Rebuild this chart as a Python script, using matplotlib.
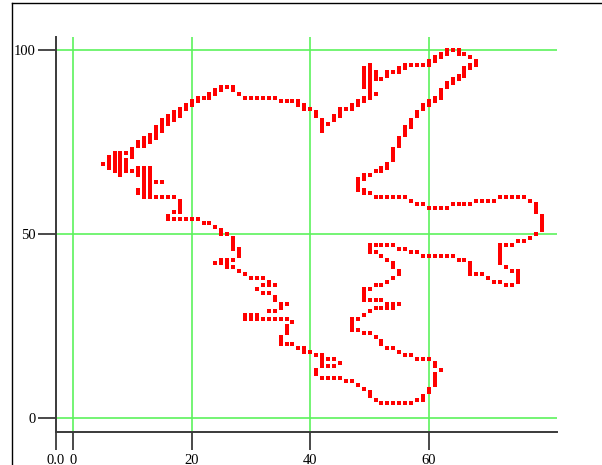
import matplotlib
matplotlib.use("Agg")
import matplotlib.pyplot as plt
from matplotlib.lines import Line2D
from matplotlib.path import Path
import numpy as np

# traced outline, stored as (x, y) lattice points, region by region
pts_left = [
    (5, 69), (6, 68), (6, 69), (6, 70), (6, 71), (7, 67), (7, 68), (7, 69), (7, 70),
    (7, 71), (7, 72), (8, 66), (8, 67), (8, 68), (8, 69), (8, 70), (8, 71), (8, 72),
    (9, 67), (9, 68), (9, 69), (9, 70), (9, 72), (10, 71), (10, 72), (10, 73),
    (10, 67), (11, 68), (11, 67), (11, 66), (11, 62), (11, 61),
    (12, 68), (12, 67), (12, 66), (12, 65), (12, 64), (12, 63), (12, 62), (12, 61),
    (13, 68), (13, 67), (13, 66), (13, 65), (13, 64), (13, 63), (13, 62), (13, 61),
    (14, 64), (15, 64), (12, 60), (13, 60), (14, 60), (15, 60), (16, 60), (17, 60),
    (18, 59), (18, 58), (18, 57), (18, 56), (17, 56), (16, 55), (16, 54), (17, 54),
    (18, 54), (19, 54), (20, 54), (21, 54), (22, 53), (23, 53), (24, 52), (25, 51),
]
pts_top = [
    (11, 74), (11, 75), (12, 74), (12, 75), (12, 76), (13, 75), (13, 76), (13, 77),
    (14, 76), (14, 77), (14, 78), (14, 79), (15, 78), (15, 79), (15, 80), (15, 81),
    (16, 80), (16, 81), (16, 82), (17, 81), (17, 82), (17, 83), (18, 82), (18, 83),
    (18, 84), (19, 84), (19, 85), (20, 85), (20, 86), (21, 86), (21, 87), (22, 87),
    (23, 87), (23, 88), (24, 88), (24, 89), (25, 89), (25, 90), (26, 90), (27, 90),
    (27, 89), (28, 88), (29, 87), (30, 87), (31, 87), (32, 87), (33, 87), (34, 87),
    (35, 86), (36, 86), (37, 86), (38, 86), (38, 85), (39, 85), (39, 84), (40, 84),
    (41, 83), (41, 82), (42, 81), (42, 80), (42, 79), (42, 78), (43, 80), (44, 81),
    (44, 82), (45, 82), (45, 83), (45, 84), (46, 84), (47, 84), (47, 85), (48, 85),
    (48, 86), (49, 86), (49, 87), (50, 87),
]
pts_lobe = [
    (50, 88), (50, 89), (50, 90), (49, 90), (49, 91), (49, 92), (49, 93), (49, 94),
    (49, 95), (50, 91), (50, 92), (50, 93), (50, 94), (50, 95), (50, 96), (51, 94),
    (51, 93), (51, 92), (51, 88), (52, 92), (53, 93), (53, 94), (54, 94), (55, 94),
    (55, 95), (56, 95), (56, 96), (57, 96), (58, 96), (59, 96), (60, 96), (60, 97),
    (61, 97), (61, 98), (62, 98), (62, 99), (63, 99), (63, 100), (64, 100), (65, 100),
    (65, 99), (66, 99), (67, 98), (68, 97), (68, 96), (67, 96), (67, 95), (66, 95),
    (66, 94), (66, 93), (65, 93), (65, 92), (64, 92), (64, 91), (63, 91), (63, 90),
    (62, 89), (62, 88), (62, 87), (61, 87), (61, 86), (60, 86), (60, 85), (59, 85),
    (59, 84), (58, 83), (58, 82), (57, 81), (57, 80), (57, 79), (56, 79), (56, 78),
    (56, 77), (55, 76), (55, 75), (55, 74), (54, 73), (54, 72), (54, 71), (54, 70),
    (53, 69), (53, 68), (52, 68), (52, 67), (51, 67), (50, 66), (49, 66), (49, 65),
    (48, 65), (48, 64), (48, 63), (48, 62), (49, 62), (49, 61), (50, 61),
]
pts_right = [
    (51, 60), (52, 60), (53, 60), (54, 60), (55, 60), (56, 60), (57, 59), (58, 58),
    (59, 58), (60, 57), (61, 57), (62, 57), (63, 57), (64, 58), (65, 58), (66, 58),
    (67, 58), (68, 59), (69, 59), (70, 59), (71, 59), (72, 60), (73, 60), (74, 60),
    (75, 60), (76, 60), (77, 59), (78, 58), (78, 57), (78, 56), (79, 55), (79, 54),
    (79, 53), (79, 52), (79, 51), (78, 50), (77, 49), (76, 48), (75, 48), (74, 47),
    (73, 47), (72, 47), (72, 46), (72, 45), (72, 44), (72, 43), (72, 42), (73, 41),
    (74, 40), (75, 40), (75, 39), (75, 38), (75, 37), (74, 36), (73, 36), (72, 37),
    (71, 37), (70, 38), (69, 39), (68, 39), (67, 39), (67, 40), (67, 41), (67, 42),
    (66, 43), (65, 43), (64, 44), (63, 44), (62, 44), (61, 44), (60, 44), (59, 44),
    (58, 45), (57, 45), (56, 46), (55, 46), (54, 47), (53, 47), (52, 47), (51, 47),
    (50, 47), (50, 46), (50, 45),
]
pts_zigzag = [
    (51, 45), (52, 44), (53, 43), (54, 42), (54, 41), (55, 40), (55, 39), (54, 38),
    (53, 37), (52, 36), (51, 36), (50, 35), (49, 35), (49, 34), (49, 33), (49, 32),
    (50, 32), (51, 32), (52, 32), (53, 31), (54, 31), (55, 31), (53, 30), (54, 30),
    (52, 30), (51, 30), (50, 29), (49, 28), (48, 27), (47, 27), (47, 26), (47, 25),
    (47, 24), (48, 24), (49, 23), (50, 23), (51, 22), (52, 21), (52, 20), (53, 19),
    (54, 19), (55, 18), (56, 17), (57, 17), (58, 16), (59, 16), (60, 16), (61, 15),
    (61, 14), (62, 13), (61, 12), (61, 11), (61, 10), (61, 9), (60, 8), (60, 7),
    (59, 6), (59, 5), (58, 5), (57, 4), (56, 4), (55, 4), (54, 4), (53, 4), (52, 4),
    (51, 5), (50, 6), (50, 7), (49, 8), (48, 9), (47, 10), (46, 10), (45, 11),
    (44, 11), (43, 11), (42, 11), (41, 12), (41, 13), (42, 14), (43, 14), (44, 14),
    (45, 15), (44, 16), (43, 16), (42, 17), (42, 16), (42, 15), (41, 17), (40, 18),
    (39, 18), (39, 19), (38, 19), (37, 20), (36, 20), (35, 20), (35, 21), (35, 22),
]
pts_lower = [
    (36, 23), (36, 24), (36, 25), (37, 26), (36, 27), (35, 27), (34, 27), (33, 27),
    (32, 27), (31, 27), (31, 28), (30, 27), (30, 28), (29, 27), (29, 28), (33, 29),
    (34, 29), (35, 30), (36, 31), (35, 31), (34, 32), (34, 33), (33, 34), (32, 34),
    (31, 35), (32, 36), (33, 36), (34, 36), (33, 37), (32, 38), (31, 38), (30, 38),
    (29, 39), (28, 40), (27, 41), (26, 41), (25, 42), (24, 42), (26, 42), (25, 43),
    (26, 43), (27, 43), (28, 44), (28, 45), (28, 46), (27, 46), (27, 47), (27, 48),
    (27, 49), (26, 50), (25, 50),
]

x_ticks = [0, 20, 40, 60]
y_ticks = [0, 50, 100]

pts = np.array(pts_left + pts_top + pts_lobe + pts_right + pts_zigzag + pts_lower,
               dtype=float)

fig = plt.figure(figsize=(6.02, 4.65), dpi=100)
W, H = 602, 465
ax = fig.add_axes([56 / W, 1 - 432 / H, (557 - 56) / W, (432 - 37) / H])

x0, x1 = -2.87, 81.6
ax.set_xlim(x0, x1)
ax.set_ylim(-3.8, 103.5)

grid_color = '#5cf25c'
for gx in x_ticks:
    ax.axvline(gx, color=grid_color, lw=1.2, zorder=1)
for gy in y_ticks:
    ax.axhline(gy, color=grid_color, lw=1.2, zorder=1)

# slightly flattened square for each sample
cell = Path([(-0.5, -0.42), (0.5, -0.42), (0.5, 0.42), (-0.5, 0.42), (-0.5, -0.42)],
            closed=True)
ax.plot(pts[:, 0], pts[:, 1], ls='none', marker=cell, ms=3.1, mew=0,
        color='#ff0000', zorder=3)

for side in ('top', 'right'):
    ax.spines[side].set_visible(False)
for side in ('left', 'bottom'):
    ax.spines[side].set_color('#3a3a3a')
    ax.spines[side].set_linewidth(1.4)

ax.set_xticks([x0] + x_ticks)
ax.set_xticklabels(['0.0'] + [str(t) for t in x_ticks])
ax.set_yticks(y_ticks)
ax.set_yticklabels([str(t) for t in y_ticks])
ax.tick_params(axis='both', direction='out', length=13, width=1.3,
               color='#3a3a3a', labelsize=10.5)
ax.tick_params(axis='y', pad=1.5)
ax.tick_params(axis='x', pad=2.5)
for lab in ax.get_xticklabels() + ax.get_yticklabels():
    lab.set_fontfamily('Liberation Serif')

# outer frame on the top and left edges
fig.add_artist(Line2D([12 / W, 1], [1 - 3 / H, 1 - 3 / H], color='black', lw=1.0,
                      transform=fig.transFigure))
fig.add_artist(Line2D([12 / W, 12 / W], [0, 1 - 3 / H], color='black', lw=1.0,
                      transform=fig.transFigure))

fig.savefig('out.png', dpi=100)
